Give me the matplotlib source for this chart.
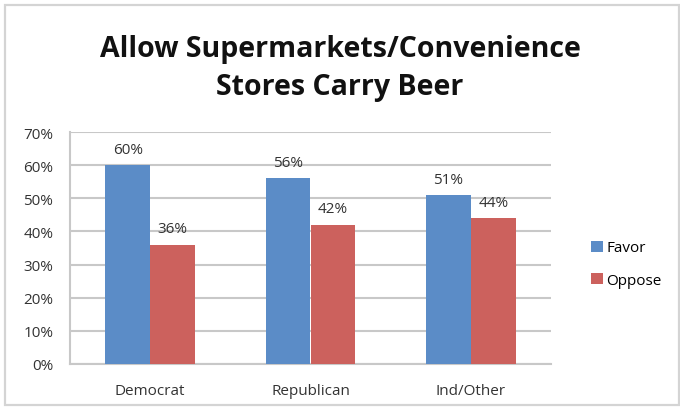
import matplotlib.pyplot as plt
from matplotlib.patches import Rectangle
import numpy as np

groups = ["Democrat", "Republican", "Ind/Other"]
favor = [60, 56, 51]
oppose = [36, 42, 44]
series_names = ["Favor", "Oppose"]
yticks = [0, 10, 20, 30, 40, 50, 60, 70]

blue = "#5b8cc7"
red = "#cc615d"
grid_c = "#c8c8c8"
txt_c = "#333333"

plt.rcParams['font.family'] = ['Open Sans', 'DejaVu Sans']

fig = plt.figure(figsize=(6.8, 4.1), dpi=100, facecolor='white')

# light frame round the whole chart
fig.patches.append(Rectangle((5/680, 4/410), 674/680, 400/410, transform=fig.transFigure,
                             fill=False, edgecolor="#d4d4d4", linewidth=1.6))

ax = fig.add_axes([70/680, 45/410, 481/680, 232/410])

x = np.arange(len(groups))
w = 0.28
b1 = ax.bar(x - w/2, favor, w, color=blue, label=series_names[0], zorder=3)
b2 = ax.bar(x + w/2, oppose, w, color=red, label=series_names[1], zorder=3)

for bars, vals in ((b1, favor), (b2, oppose)):
    for r, v in zip(bars, vals):
        ax.annotate("%d%%" % v, (r.get_x() + r.get_width()/2, v), xytext=(0, 6),
                    textcoords='offset points', ha='center', va='bottom',
                    fontsize=11, color=txt_c, zorder=4)

ax.set_xlim(-0.5, 2.5)
ax.set_ylim(0, 70)
ax.set_yticks(yticks)
ax.set_yticklabels(["%d%%" % t for t in yticks], fontsize=11, color=txt_c)
ax.set_xticks(x)
ax.set_xticklabels(groups, fontsize=11, color=txt_c)
ax.tick_params(axis='both', length=0)
ax.tick_params(axis='y', pad=12)
ax.tick_params(axis='x', pad=14)
ax.yaxis.grid(True, color=grid_c, linewidth=1.5, zorder=0)
ax.set_axisbelow(True)
for s in ('top', 'right'):
    ax.spines[s].set_visible(False)
for s in ('left', 'bottom'):
    ax.spines[s].set_color(grid_c)
    ax.spines[s].set_linewidth(1.5)

ax.legend(loc='center left', bbox_to_anchor=(1.055, 0.43), frameon=False,
          fontsize=11, handlelength=0.75, handleheight=0.75, handletextpad=0.25,
          labelspacing=1.15)

fig.text(0.5, 0.832, "Allow Supermarkets/Convenience\nStores Carry Beer", ha='center',
         va='center', fontsize=20.5, fontweight='bold', color="#111111", linespacing=1.4)

fig.savefig("out.png", dpi=100, facecolor='white')
